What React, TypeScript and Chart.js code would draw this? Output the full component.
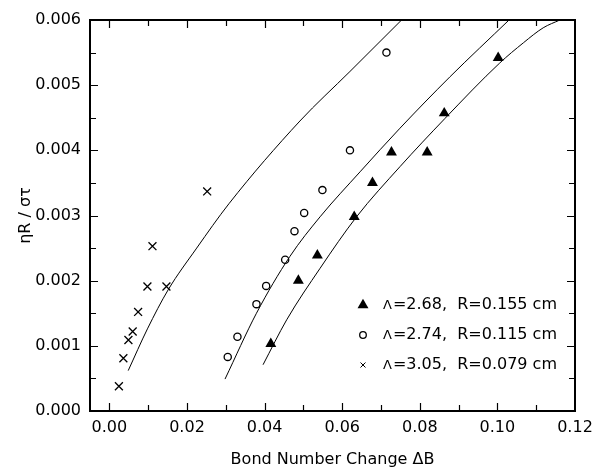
import React, { useEffect, useRef } from 'react';
import { Chart, registerables } from 'chart.js';

Chart.register(...registerables);

// ---------- data ----------
const xTicks = [0, 0.02, 0.04, 0.06, 0.08, 0.1, 0.12];
const xTickLabels = ['0.00', '0.02', '0.04', '0.06', '0.08', '0.10', '0.12'];
const xMinorTicks = [0.01, 0.03, 0.05, 0.07, 0.09, 0.11];
const yTicks = [0, 0.001, 0.002, 0.003, 0.004, 0.005, 0.006];
const yTickLabels = ['0.000', '0.001', '0.002', '0.003', '0.004', '0.005', '0.006'];
const yMinorTicks = [0.0005, 0.0015, 0.0025, 0.0035, 0.0045, 0.0055];

const triX = [0.0416, 0.0487, 0.0536, 0.0631, 0.0678, 0.0727, 0.0819, 0.0863, 0.1002];
const triY = [0.00103, 0.002, 0.00239, 0.00298, 0.0035, 0.00397, 0.00397, 0.00457, 0.00542];

const circX = [0.0305, 0.033, 0.0379, 0.0404, 0.0453, 0.0477, 0.0502, 0.0549, 0.062, 0.0714];
const circY = [0.00083, 0.00114, 0.00164, 0.00192, 0.00232, 0.00276, 0.00304, 0.00339, 0.004, 0.0055];

const crossX = [0.00245, 0.0036, 0.0049, 0.006, 0.0074, 0.0098, 0.0111, 0.0147, 0.0252];
const crossY = [0.00038, 0.00081, 0.00109, 0.00122, 0.00152, 0.00191, 0.00253, 0.00191, 0.00337];

const fitCrossX = [0.00485, 0.0098, 0.01515, 0.0225, 0.0308, 0.0491, 0.062, 0.0753];
const fitCrossY = [0.00062, 0.00126, 0.00186, 0.0025, 0.00318, 0.00445, 0.00521, 0.006];

const fitCircX = [0.0298, 0.0379, 0.0465, 0.0543, 0.0646, 0.0749, 0.0878, 0.103];
const fitCircY = [0.00049, 0.0015, 0.00237, 0.00298, 0.00367, 0.00434, 0.00513, 0.006];

const fitTriX = [0.0396, 0.0457, 0.0543, 0.0637, 0.0749, 0.0865, 0.1006, 0.1067, 0.1118, 0.1161];
const fitTriY = [0.00071, 0.0014, 0.00219, 0.00298, 0.00375, 0.00449, 0.00534, 0.00565, 0.00588, 0.006];

const legendSymbols = ['Λ', 'Λ', 'Λ'];
const legendLabels = ['=2.68,  R=0.155 cm', '=2.74,  R=0.115 cm', '=3.05,  R=0.079 cm'];

const FONT = 'DejaVu Sans';

const pts = (xs: number[], ys: number[]) => xs.map((x, i) => ({ x, y: ys[i] }));

const framePlugin = {
  id: 'frameAndLegend',
  afterDraw(chart: any) {
    const ctx = chart.ctx as CanvasRenderingContext2D;
    const { left, right, top, bottom } = chart.chartArea;
    const xs = chart.scales.x;
    const ys = chart.scales.y;
    ctx.save();
    ctx.strokeStyle = '#000';
    ctx.lineWidth = 1.2;
    const tick = (vals: number[], len: number) => {
      vals.forEach((v) => {
        const px = Math.round(xs.getPixelForValue(v)) + 0.5;
        ctx.beginPath();
        ctx.moveTo(px, bottom);
        ctx.lineTo(px, bottom - len);
        ctx.moveTo(px, top);
        ctx.lineTo(px, top + len);
        ctx.stroke();
      });
    };
    const tickY = (vals: number[], len: number) => {
      vals.forEach((v) => {
        const py = Math.round(ys.getPixelForValue(v)) + 0.5;
        ctx.beginPath();
        ctx.moveTo(left, py);
        ctx.lineTo(left + len, py);
        ctx.moveTo(right, py);
        ctx.lineTo(right - len, py);
        ctx.stroke();
      });
    };
    tick(xTicks.filter((v) => v > xs.min && v < xs.max), 8);
    tick(xMinorTicks, 6);
    tickY(yTicks.filter((v) => v > ys.min && v < ys.max), 8);
    tickY(yMinorTicks, 6);
    ctx.lineWidth = 2;
    ctx.strokeRect(left, top, right - left, bottom - top);

    // legend
    const rowY = [305, 335, 365];
    const markX = 363;
    const textX = 383;
    for (let i = 0; i < 3; i++) {
      const y = rowY[i];
      ctx.fillStyle = '#000';
      ctx.strokeStyle = '#000';
      if (i === 0) {
        const r = 6.3;
        ctx.beginPath();
        ctx.moveTo(markX, y - r);
        ctx.lineTo(markX + r * Math.sin((2 * Math.PI) / 3), y - r * Math.cos((2 * Math.PI) / 3));
        ctx.lineTo(markX + r * Math.sin((4 * Math.PI) / 3), y - r * Math.cos((4 * Math.PI) / 3));
        ctx.closePath();
        ctx.fill();
      } else if (i === 1) {
        ctx.lineWidth = 1.3;
        ctx.beginPath();
        ctx.arc(markX, y, 3.3, 0, Math.PI * 2);
        ctx.stroke();
      } else {
        ctx.lineWidth = 1;
        const d = 2.5;
        ctx.beginPath();
        ctx.moveTo(markX - d, y - d);
        ctx.lineTo(markX + d, y + d);
        ctx.moveTo(markX - d, y + d);
        ctx.lineTo(markX + d, y - d);
        ctx.stroke();
      }
      ctx.textBaseline = 'middle';
      ctx.textAlign = 'left';
      ctx.font = `13px ${FONT}`;
      ctx.fillText(legendSymbols[i], textX, y + 1);
      const w = ctx.measureText(legendSymbols[i]).width;
      ctx.font = `16px ${FONT}`;
      ctx.fillText(legendLabels[i], textX + w + 1, y);
    }
    ctx.restore();
  },
};

export default function App() {
  const ref = useRef<HTMLCanvasElement | null>(null);
  useEffect(() => {
    if (!ref.current) return;
    const font = { family: FONT, size: 16 };
    const fitLine = (xs: number[], ys: number[], label: string) =>
      ({
        label,
        data: pts(xs, ys),
        showLine: true,
        borderColor: '#000',
        borderWidth: 1,
        pointRadius: 0,
        cubicInterpolationMode: 'monotone',
      }) as any;
    const chart = new Chart(ref.current, {
      type: 'scatter',
      data: {
        datasets: [
          fitLine(fitTriX, fitTriY, 'fit triangles'),
          fitLine(fitCircX, fitCircY, 'fit circles'),
          fitLine(fitCrossX, fitCrossY, 'fit crosses'),
          {
            label: 'Λ=2.68, R=0.155 cm',
            data: pts(triX, triY),
            pointStyle: 'triangle',
            pointRadius: 6.3,
            backgroundColor: '#000',
            borderColor: '#000',
            borderWidth: 0,
          },
          {
            label: 'Λ=2.74, R=0.115 cm',
            data: pts(circX, circY),
            pointStyle: 'circle',
            pointRadius: 3.6,
            backgroundColor: 'rgba(0,0,0,0)',
            borderColor: '#000',
            borderWidth: 1.3,
          },
          {
            label: 'Λ=3.05, R=0.079 cm',
            data: pts(crossX, crossY),
            pointStyle: 'crossRot',
            pointRadius: 5.6,
            borderColor: '#000',
            borderWidth: 1.3,
          },
        ],
      },
      options: {
        animation: false,
        responsive: false,
        events: [],
        layout: { padding: { top: 20, right: 25, left: 0, bottom: 0 } },
        plugins: { legend: { display: false }, tooltip: { enabled: false } },
        scales: {
          x: {
            type: 'linear',
            min: -0.005,
            max: 0.12,
            afterBuildTicks: (s: any) => {
              s.ticks = xTicks.map((v) => ({ value: v }));
            },
            afterFit: (s: any) => {
              s.height = 59;
            },
            ticks: {
              callback: (_v: any, i: number) => xTickLabels[i],
              font,
              color: '#000',
              padding: 7,
              maxRotation: 0,
              autoSkip: false,
            },
            grid: { display: false, drawTicks: false },
            border: { display: false },
            title: {
              display: true,
              text: 'Bond Number Change ΔB',
              font,
              color: '#000',
              padding: { top: 0, bottom: 1 },
            },
          },
          y: {
            type: 'linear',
            min: 0,
            max: 0.006,
            afterBuildTicks: (s: any) => {
              s.ticks = yTicks.map((v) => ({ value: v }));
            },
            afterFit: (s: any) => {
              s.width = 90;
            },
            ticks: {
              callback: (_v: any, i: number) => yTickLabels[i],
              font,
              color: '#000',
              padding: 9,
              autoSkip: false,
            },
            grid: { display: false, drawTicks: false },
            border: { display: false },
            title: {
              display: true,
              text: 'ηR / στ',
              font,
              color: '#000',
              padding: { top: 16, bottom: 0 },
            },
          },
        },
      },
      plugins: [framePlugin],
    } as any);
    return () => chart.destroy();
  }, []);
  return (
    <div style={{ position: 'absolute', left: 0, top: 0, width: 600, height: 470, background: '#fff' }}>
      <canvas ref={ref} width={600} height={470} />
    </div>
  );
}
